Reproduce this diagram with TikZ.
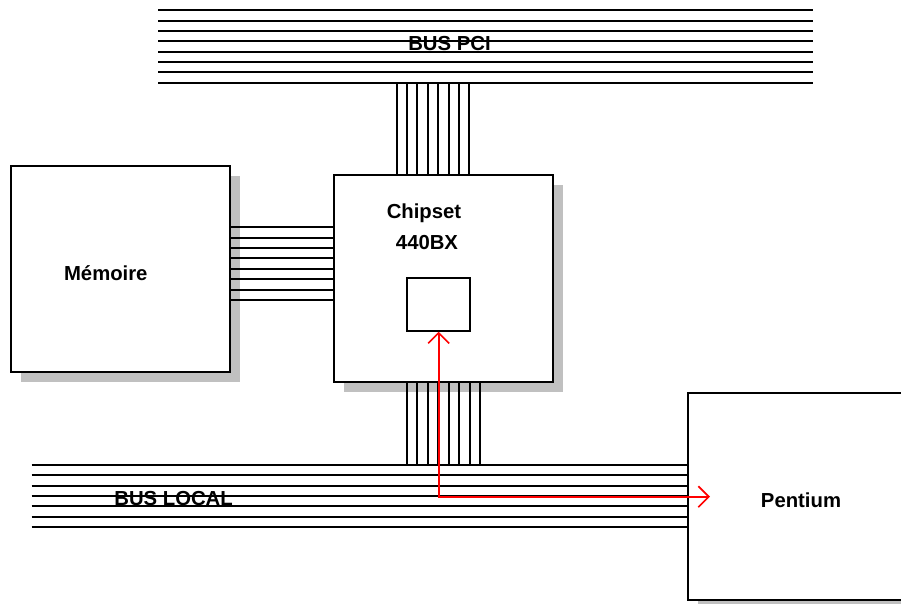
\documentclass[tikz,border=0pt]{standalone}
\usepackage{fontspec}
\setmainfont{Liberation Sans}
\usetikzlibrary{arrows.meta,shadows,positioning}
\definecolor{shadowgray}{RGB}{192,192,192}
\definecolor{signalred}{RGB}{255,0,0}

\begin{document}
\begin{tikzpicture}[
    x=1pt, y=-1pt,
    every node/.style={font=\fontsize{20.3}{24}\selectfont\bfseries, align=center},
    box/.style={rectangle, draw=black, line width=1.9pt, fill=white, inner sep=0pt, drop shadow={shadow xshift=10pt, shadow yshift=-10pt, fill=shadowgray, opacity=1}},
    reg/.style={rectangle, draw=black, line width=1.9pt, fill=white, inner sep=0pt},
    wire/.style={line width=1.9pt},
    sig/.style={draw=signalred, line width=1.7pt, {Straight Barb[length=10.5pt,width=21pt]}-{Straight Barb[length=10.5pt,width=21pt]}}
]
\useasboundingbox (0,0) rectangle (901,603);

% Blocks
\node[box, minimum width=219.3pt, minimum height=206.6pt] (mem) at (120.35,269) {};
\node[box, minimum width=219pt, minimum height=207pt] (chip) at (443.5,278.5) {};
\node[reg, minimum width=62.7pt, minimum height=52.4pt] (cache) at (438.65,304.5) {};
\node[box, minimum width=232pt, minimum height=207pt] (cpu) at (804,496.5) {};

% Labels
\node[anchor=base] (memtxt) at (105.8,280) {Mémoire};
\node[anchor=base] (chiptxt) at (424,218.3) {Chipset};
\node[anchor=base] (chipref) at (427,249.3) {440BX};
\node[anchor=base] (cputxt) at (801,507.3) {Pentium};

% PCI bus
\foreach \i [evaluate=\i as \yy using round(10.3+10.34*\i)+0.25] in {0,...,7}
  \draw[wire] (158,\yy) -- (813,\yy);
\node[anchor=base] (pcitxt) at (449.5,50.6) {BUS PCI};

% Local bus
\foreach \i [evaluate=\i as \yy using round(465+10.3*\i)+0.25] in {0,...,6}
  \draw[wire] (31.7,\yy) -- (cpu.west |- 0,\yy);
\node[anchor=base] (loctxt) at (173.6,505.7) {BUS LOCAL};

% Memory to chipset
\foreach \i [evaluate=\i as \yy using round(227.3+10.4*\i)+0.25] in {0,...,7}
  \draw[wire] (mem.east |- 0,\yy) -- (chip.west |- 0,\yy);

% Chipset to PCI bus
\foreach \i [evaluate=\i as \xx using round(396.7+10.37*\i)+0.25] in {0,...,7}
  \draw[wire] (\xx,82.7) -- (chip.north -| \xx,0);

% Chipset to local bus
\foreach \i [evaluate=\i as \xx using round(406.7+10.47*\i)+0.25] in {0,...,7}
  \draw[wire] (chip.south -| \xx,0) -- (\xx,465);

% Data path
\coordinate (tip) at (710,496.7);
\draw[sig] (cache.south) |- (tip);

\end{tikzpicture}
\end{document}
